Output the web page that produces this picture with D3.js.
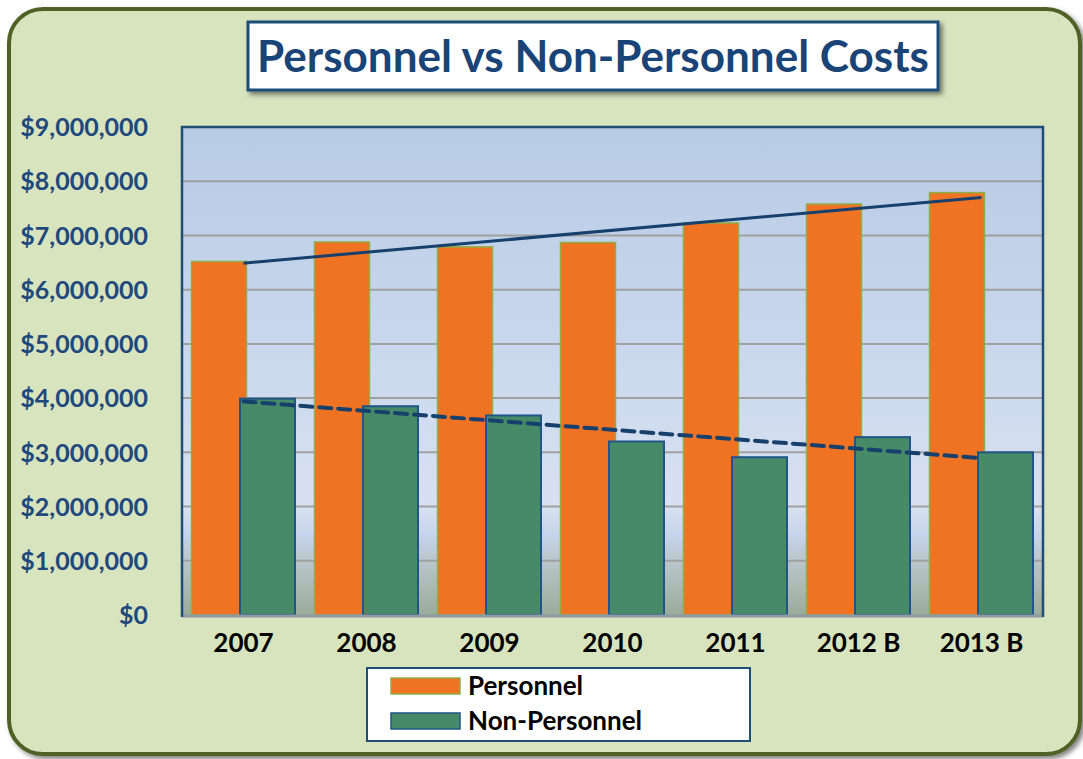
<!DOCTYPE html>
<html><head><meta charset="utf-8">
<script src="https://cdn.jsdelivr.net/npm/d3@7"></script>
<style>
html,body{margin:0;padding:0;background:#ffffff;}
svg{display:block;}
text{font-family:Lato,"Open Sans","Noto Sans",sans-serif;font-weight:bold;}
</style></head>
<body>
<svg id="c" width="1083" height="759"></svg>
<script>
const categories = ["2007","2008","2009","2010","2011","2012 B","2013 B"];
const personnel = [6520000, 6880000, 6790000, 6870000, 7230000, 7580000, 7790000];
const nonPersonnel = [3990000, 3850000, 3680000, 3200000, 2910000, 3280000, 3000000];
const yTicks = [0,1000000,2000000,3000000,4000000,5000000,6000000,7000000,8000000,9000000];
const seriesNames = ["Personnel","Non-Personnel"];
const titleText = "Personnel vs Non-Personnel Costs";

const svg = d3.select("#c");
const defs = svg.append("defs");

const f1 = defs.append("filter").attr("id","sh").attr("x","-10%").attr("y","-10%").attr("width","130%").attr("height","130%");
f1.append("feGaussianBlur").attr("in","SourceAlpha").attr("stdDeviation",2.5).attr("result","b");
f1.append("feOffset").attr("in","b").attr("dx",3).attr("dy",3).attr("result","o");
f1.append("feComponentTransfer").attr("in","o").attr("result","o2").append("feFuncA").attr("type","linear").attr("slope",0.5);
const m1 = f1.append("feMerge"); m1.append("feMergeNode").attr("in","o2"); m1.append("feMergeNode").attr("in","SourceGraphic");

const g = defs.append("linearGradient").attr("id","pg").attr("x1",0).attr("y1",0).attr("x2",0).attr("y2",1);
[[0,"#b7cbe4"],[0.45,"#c9d7ed"],[0.78,"#d8e1f1"],[0.84,"#c5d2ea"],[0.88,"#bcc8cf"],[1,"#9bab99"]].forEach(s=>g.append("stop").attr("offset",s[0]).attr("stop-color",s[1]));

svg.append("rect").attr("x",9).attr("y",9).attr("width",1071).attr("height",745).attr("rx",34).attr("ry",34)
  .attr("fill","#d7e4bd").attr("stroke","#4f6228").attr("stroke-width",4).attr("filter","url(#sh)");

const margin = {left:182, right:1043, top:127, bottom:615};
const x = d3.scaleBand().domain(categories).range([margin.left, margin.right]).padding(0);
const y = d3.scaleLinear().domain([0,9000000]).range([margin.bottom, margin.top]);

svg.append("rect").attr("x",margin.left).attr("y",margin.top).attr("width",margin.right-margin.left).attr("height",margin.bottom-margin.top)
  .attr("fill","url(#pg)");

svg.append("g").selectAll("line").data(yTicks.filter(d=>d>0 && d<9000000)).join("line")
  .attr("x1",margin.left).attr("x2",margin.right).attr("y1",d=>y(d)).attr("y2",d=>y(d))
  .attr("stroke","#a0a0a0").attr("stroke-width",2);

const bw = 55;
const barsG = svg.append("g");
barsG.selectAll("rect.p").data(personnel).join("rect").attr("class","p")
  .attr("x",(d,i)=>x(categories[i])+x.bandwidth()/2-52).attr("width",bw)
  .attr("y",d=>y(d)).attr("height",d=>y(0)-y(d))
  .attr("fill","#f07324").attr("stroke","#8fae4a").attr("stroke-width",1.5);
barsG.selectAll("rect.n").data(nonPersonnel).join("rect").attr("class","n")
  .attr("x",(d,i)=>x(categories[i])+x.bandwidth()/2-3.5).attr("width",bw)
  .attr("y",d=>y(d)).attr("height",d=>y(0)-y(d))
  .attr("fill","#478a67").attr("stroke","#1f5588").attr("stroke-width",2);

svg.append("line").attr("x1",margin.left).attr("x2",margin.right).attr("y1",y(0)+1).attr("y2",y(0)+1)
  .attr("stroke","#8e9aa6").attr("stroke-width",3);

svg.append("path").attr("d",`M${margin.left},${margin.bottom+2}V${margin.top}H${margin.right}V${margin.bottom+2}`)
  .attr("fill","none").attr("stroke","#1f4e79").attr("stroke-width",2.5);

function trend(vals){
  const n=vals.length, xs=vals.map((v,i)=>i+1);
  const mx=d3.mean(xs), my=d3.mean(vals);
  const b=d3.sum(xs.map((xi,i)=>(xi-mx)*(vals[i]-my)))/d3.sum(xs.map(xi=>(xi-mx)**2));
  const a=my-b*mx;
  return [[categories[0],a+b*1],[categories[n-1],a+b*n]];
}
const line = d3.line().x(d=>x(d[0])+x.bandwidth()/2).y(d=>y(d[1]));
svg.append("path").attr("d",line(trend(personnel))).attr("fill","none").attr("stroke","#17406d").attr("stroke-width",3);
svg.append("path").attr("d",line(trend(nonPersonnel))).attr("fill","none").attr("stroke","#17406d").attr("stroke-width",4)
  .attr("stroke-dasharray","12,7").attr("stroke-linecap","round");

const fmt = d3.format("$,.0f");
const yAx = svg.append("g").attr("transform",`translate(148,0)`)
  .call(d3.axisLeft(y).tickValues(yTicks).tickFormat(fmt).tickSize(0).tickPadding(0));
yAx.select(".domain").remove();
yAx.selectAll("text").attr("fill","#1f497d").style("font-size","25px").style("font-family","Lato,'Open Sans',sans-serif").style("font-weight","bold").attr("dy","0.35em");

const xAx = svg.append("g").attr("transform",`translate(0,${margin.bottom})`)
  .call(d3.axisBottom(x).tickSize(0).tickPadding(0));
xAx.select(".domain").remove();
xAx.selectAll("text").attr("fill","#000").style("font-size","26px").style("font-family","Lato,'Open Sans',sans-serif").style("font-weight","bold").attr("y",28).attr("dy","0.35em");

svg.append("rect").attr("x",248).attr("y",22).attr("width",690).attr("height",68).attr("fill","#fff")
  .attr("stroke","#1f4e79").attr("stroke-width",3).attr("filter","url(#sh)");
const tt = svg.append("text").attr("x",593).attr("y",57).attr("text-anchor","middle").attr("dy","0.35em")
  .attr("fill","#1a4478").style("font-size","40px").text(titleText);
const tw = tt.node().getComputedTextLength();
tt.style("font-size",(40*672/tw)+"px");

svg.append("rect").attr("x",367).attr("y",668).attr("width",383).attr("height",73).attr("fill","#fff")
  .attr("stroke","#1f4e79").attr("stroke-width",2);
const legColors = [["#f07324","#8fae4a"],["#478a67","#1f5588"]];
seriesNames.forEach((s,i)=>{
  const yy = 686 + i*35;
  svg.append("rect").attr("x",391).attr("y",yy-8).attr("width",69).attr("height",16)
    .attr("fill",legColors[i][0]).attr("stroke",legColors[i][1]).attr("stroke-width",1.5);
  svg.append("text").attr("x",468).attr("y",yy).attr("dy","0.35em").attr("fill","#000").style("font-size","26px").text(s);
});
</script>
</body></html>
